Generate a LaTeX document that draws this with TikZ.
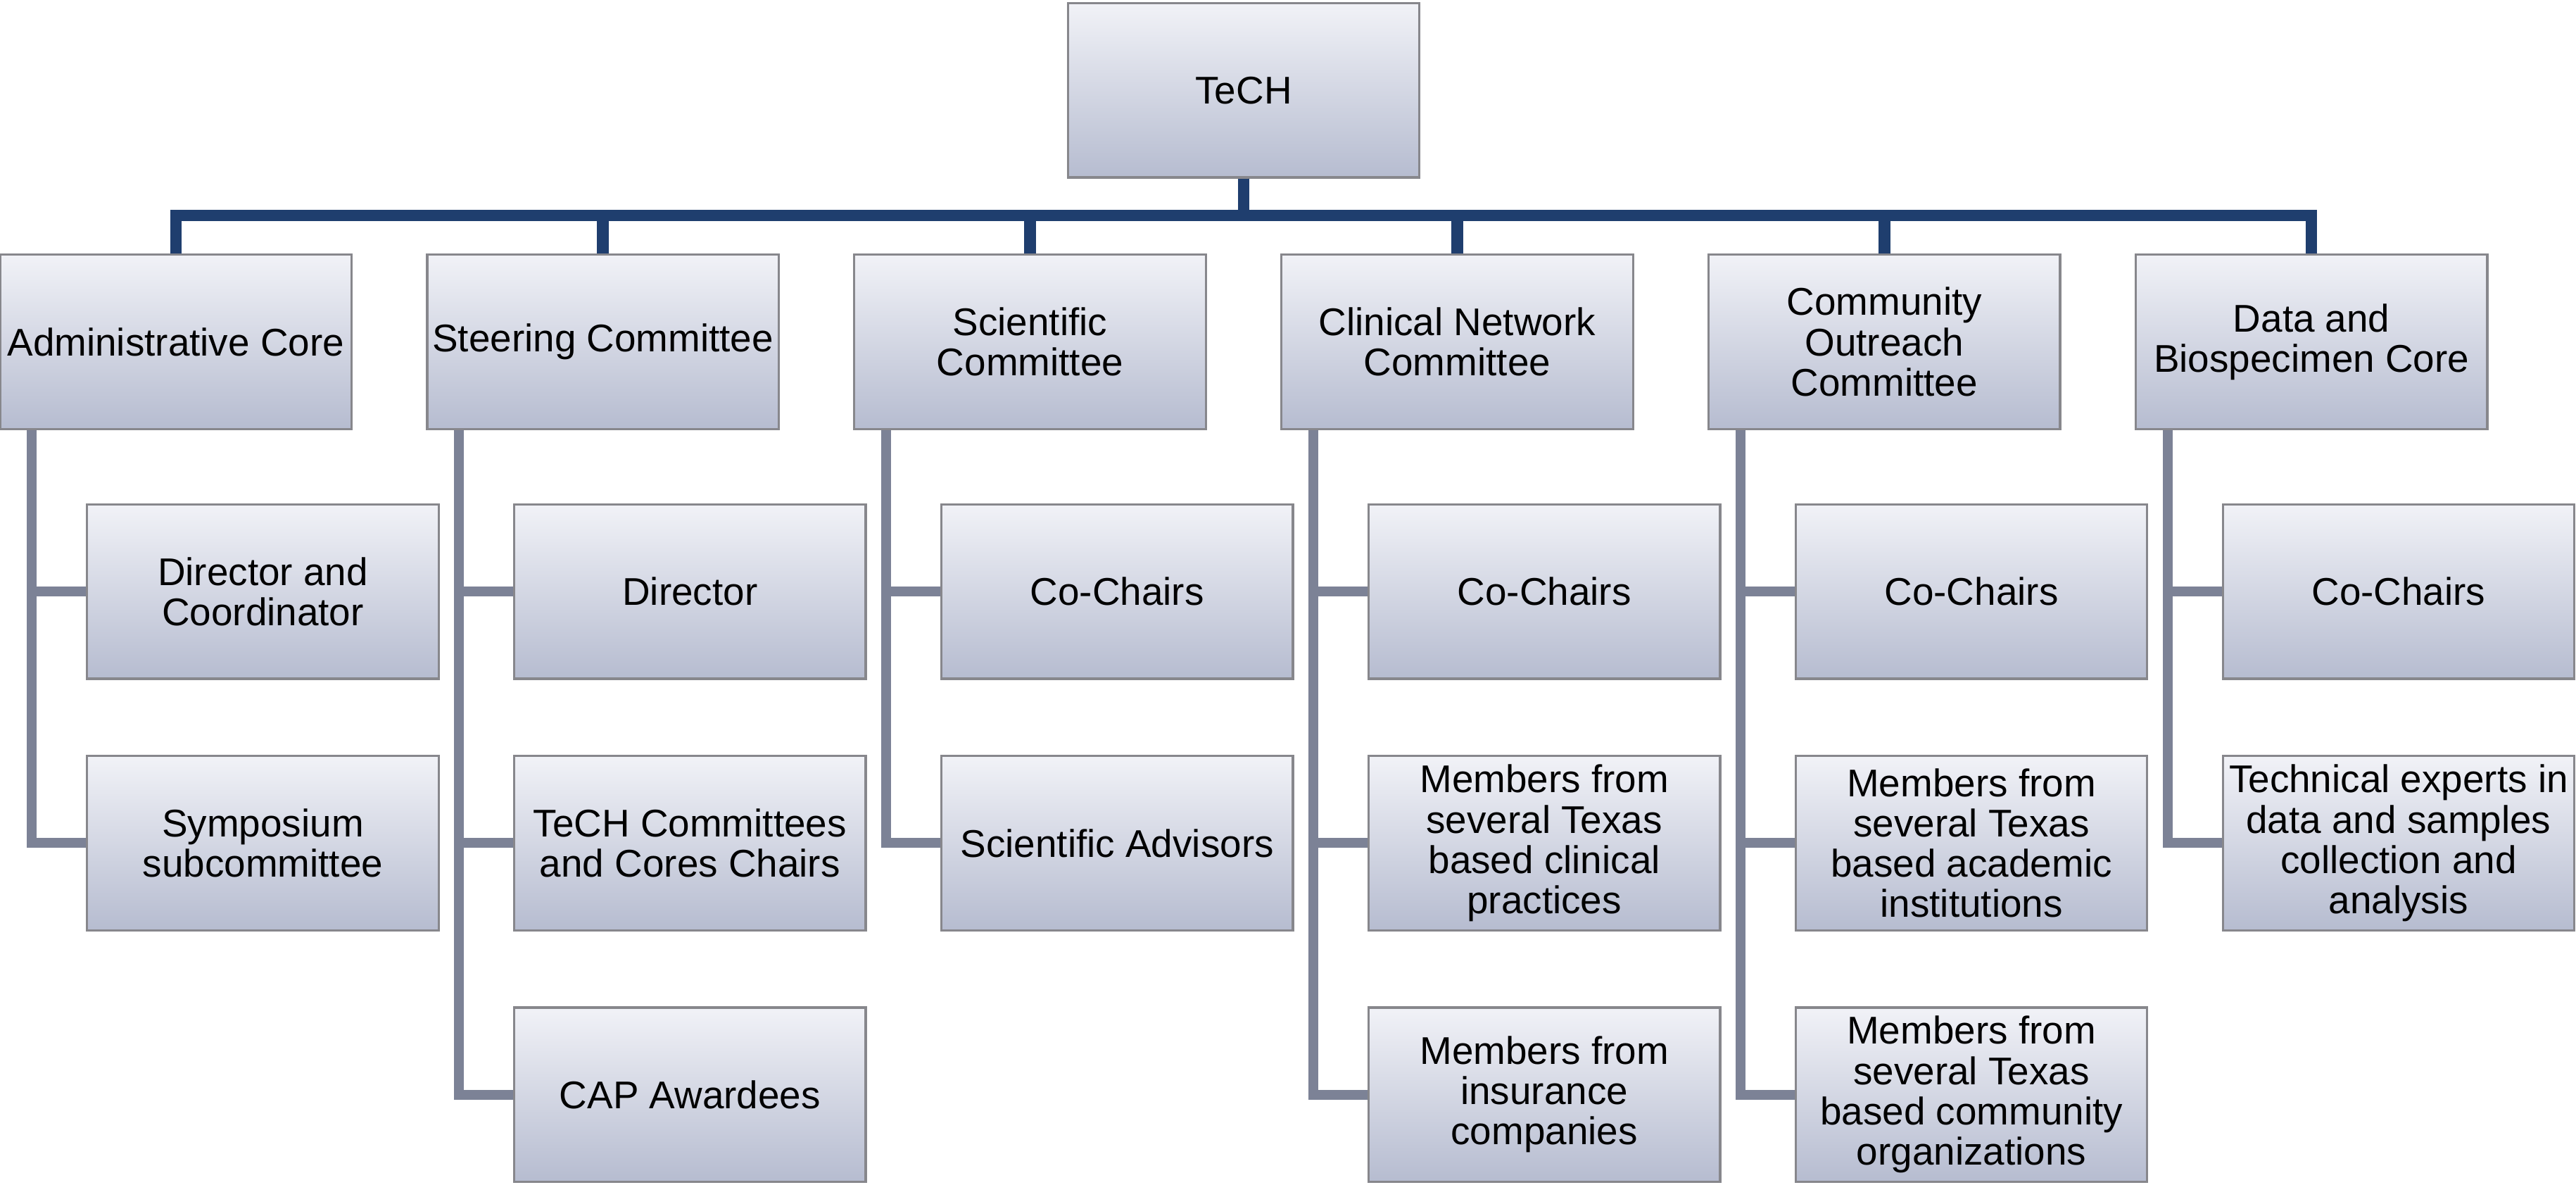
\documentclass[tikz,border=0pt]{standalone}
\usepackage{fontspec}
\setmainfont{Liberation Sans}
\usetikzlibrary{positioning}
\definecolor{boxtop}{RGB}{241,242,247}
\definecolor{boxbot}{RGB}{182,188,208}
\definecolor{boxline}{RGB}{135,135,140}
\definecolor{bluelink}{RGB}{31,62,110}
\definecolor{graylink}{RGB}{124,130,150}
\begin{document}
\begin{tikzpicture}[x=1pt,y=1pt,
        unit/.style={draw=boxline,line width=1.4pt,top color=boxtop,bottom color=boxbot,
            minimum width=214pt,minimum height=106pt,inner sep=0pt,align=center,
            font=\fontsize{23.5}{24.5}\selectfont},
        bluelink/.style={draw=bluelink,line width=7pt},
        graylink/.style={draw=graylink,line width=6pt}]
    \useasboundingbox (0,0) rectangle (1568,-720.6);
    % top
    \node[unit] (tech) at (757,-55) {TeCH};
    \coordinate (bar) at (0,-131);
    % committees and cores
    \node[unit] (adm) at (107,-208) {Administrative Core};
    \node[unit,right=44.6pt of adm] (steer) {Steering Committee};
    \node[unit,right=44.6pt of steer] (sci) {Scientific\\Committee};
    \node[unit,right=44.6pt of sci] (clin) {Clinical Network\\Committee};
    \node[unit,right=44.6pt of clin] (comm) {Community\\Outreach\\Committee};
    \node[unit,right=44.6pt of comm] (data) {Data and\\Biospecimen Core};
    % members
    \node[unit] (adm1) at (160,-360) {Director and\\Coordinator};
    \node[unit,below=45.6pt of adm1] (adm2) {Symposium\\subcommittee};
    \node[unit] (steer1) at (420,-360) {Director};
    \node[unit,below=45.6pt of steer1] (steer2) {TeCH Committees\\and Cores Chairs};
    \node[unit,below=45.6pt of steer2] (steer3) {CAP Awardees};
    \node[unit] (sci1) at (680,-360) {Co-Chairs};
    \node[unit,below=45.6pt of sci1] (sci2) {Scientific Advisors};
    \node[unit] (clin1) at (940,-360) {Co-Chairs};
    \node[unit,below=45.6pt of clin1] (clin2) {Members from\\several Texas\\based clinical\\practices};
    \node[unit,below=45.6pt of clin2] (clin3) {Members from\\insurance\\companies};
    \node[unit] (comm1) at (1200,-360) {Co-Chairs};
    \node[unit,below=45.6pt of comm1] (comm2) {Members from\\several Texas\\based academic\\institutions};
    \node[unit,below=45.6pt of comm2] (comm3) {Members from\\several Texas\\based community\\organizations};
    \node[unit] (data1) at (1460,-360) {Co-Chairs};
    \node[unit,below=45.6pt of data1] (data2) {Technical experts in\\data and samples\\collection and\\analysis};
    % links
    \foreach \n in {adm,steer,sci,clin,comm,data}
        \draw[bluelink] (tech.south) -- (tech.south |- bar) -| (\n.north);
    \foreach \p/\c in {adm/adm1,adm/adm2,steer/steer1,steer/steer2,steer/steer3,
            sci/sci1,sci/sci2,clin/clin1,clin/clin2,clin/clin3,
            comm/comm1,comm/comm2,comm/comm3,data/data1,data/data2}
        \draw[graylink] ([xshift=20pt]\p.south west) |- (\c.west);
\end{tikzpicture}
\end{document}
